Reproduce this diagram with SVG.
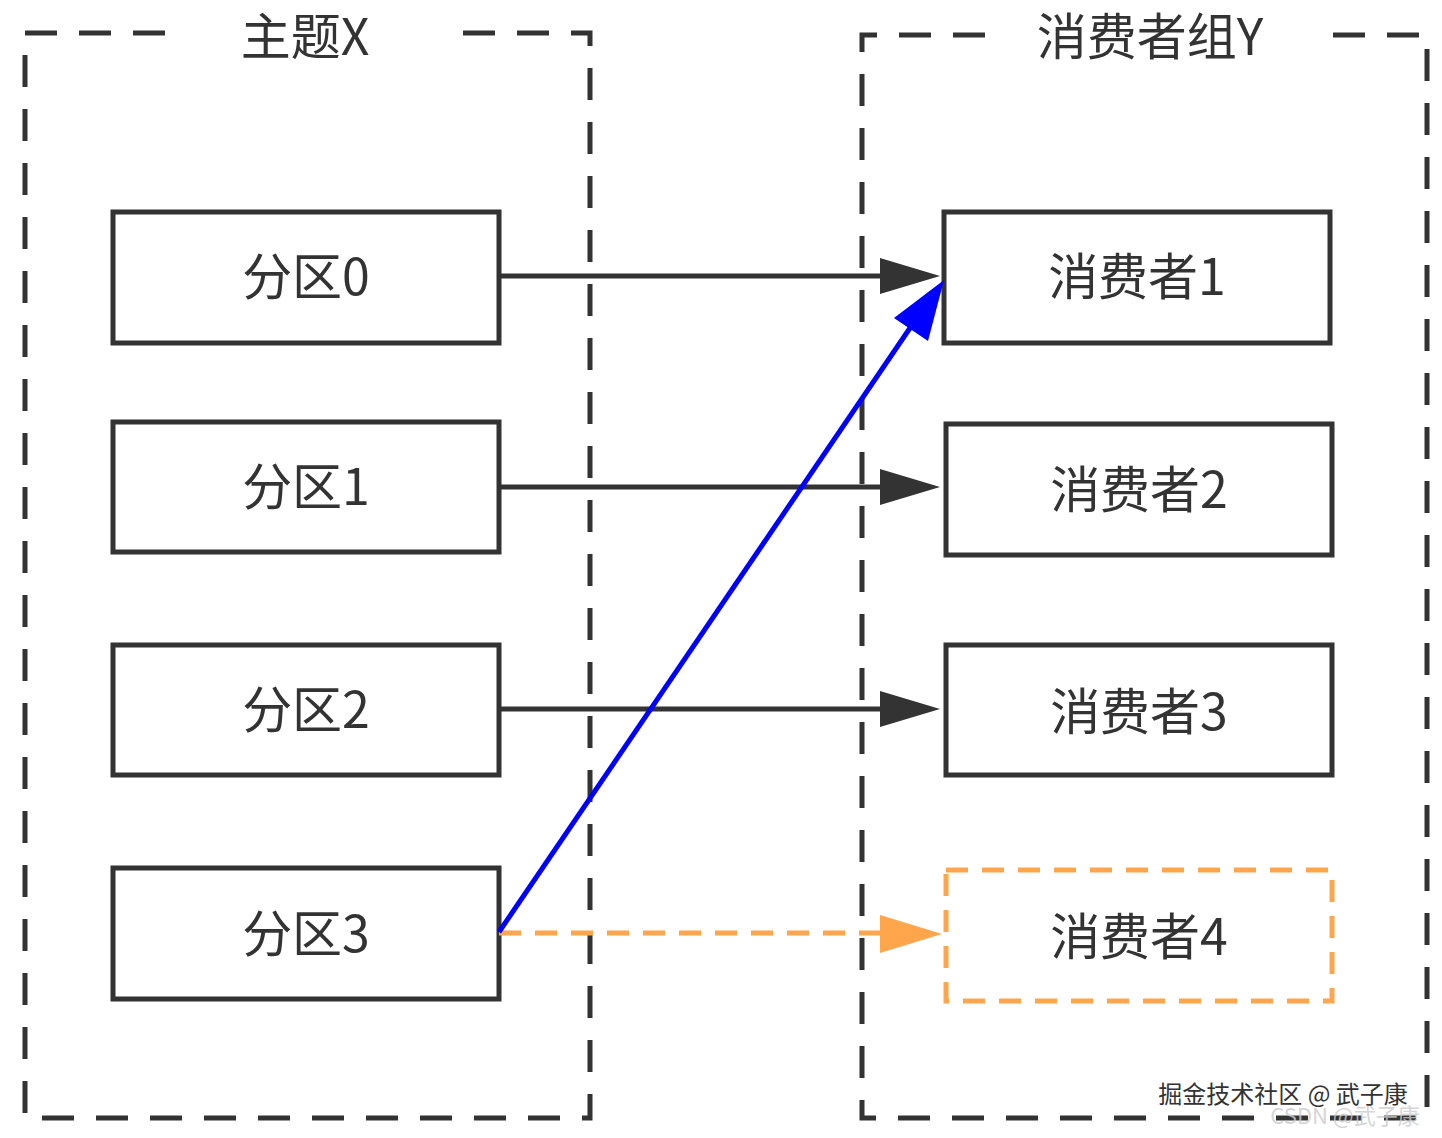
<svg xmlns="http://www.w3.org/2000/svg" width="1442" height="1138" viewBox="0 0 1442 1138">
<style>
.c{fill:none;stroke:#333;stroke-width:5;stroke-dasharray:32 22}
.n rect{fill:#fff;stroke:#333;stroke-width:5}
.t{font-family:"Noto Sans CJK SC","Noto Sans",sans-serif;font-size:50px;fill:#333;text-anchor:middle}
.e{stroke:#333;stroke-width:5;fill:none}
</style>
<rect width="1442" height="1138" fill="#fff"/>
<g id="topicX">
<path class="c" d="M165,33H25V1118H590V33H450"/>
<text class="t" x="305" y="55" font-size="48">主题X</text>
</g>
<g id="groupY">
<path class="c" d="M985,35H862V1118H1427V35H1320"/>
<text class="t" x="1150" y="55" font-size="48">消费者组Y</text>
</g>
<g id="p0" class="n"><rect x="113" y="212" width="386" height="131"/><text class="t" x="306" y="295">分区0</text></g>
<g id="p1" class="n"><rect x="113" y="422" width="386" height="130"/><text class="t" x="306" y="505">分区1</text></g>
<g id="p2" class="n"><rect x="113" y="645" width="386" height="130"/><text class="t" x="306" y="728">分区2</text></g>
<g id="p3" class="n"><rect x="113" y="868" width="386" height="131"/><text class="t" x="306" y="952">分区3</text></g>
<g id="c1" class="n"><rect x="944" y="212" width="386" height="131"/><text class="t" x="1137" y="295">消费者1</text></g>
<g id="c2" class="n"><rect x="946" y="424" width="386" height="131"/><text class="t" x="1139" y="508">消费者2</text></g>
<g id="c3" class="n"><rect x="946" y="645" width="386" height="130"/><text class="t" x="1139" y="730">消费者3</text></g>
<g id="c4"><rect x="946" y="870" width="386" height="131" fill="#fff" stroke="#FFA64D" stroke-width="5" stroke-dasharray="22 14"/><text class="t" x="1139" y="955">消费者4</text></g>
<g id="edges">
<line class="e" x1="499" y1="276" x2="880" y2="276"/><path d="M880,258L940,276L880,294z" fill="#333"/>
<line class="e" x1="499" y1="487" x2="880" y2="487"/><path d="M880,469L940,487L880,505z" fill="#333"/>
<line class="e" x1="499" y1="709" x2="880" y2="709"/><path d="M880,691L940,709L880,727z" fill="#333"/>
<line x1="499" y1="933" x2="880" y2="933" stroke="#FFA64D" stroke-width="5" stroke-dasharray="22 14"/><path d="M880,915L942,934L880,953z" fill="#FFA64D"/>
<line x1="499" y1="932" x2="910" y2="328" stroke="#0000FF" stroke-width="5"/><path d="M894,318L944,280L928,341z" fill="#0000FF"/>
</g>
<text x="1283" y="1103" font-family="'Noto Sans CJK SC',sans-serif" font-size="24" fill="#333" text-anchor="middle">掘金技术社区 @ 武子康</text>
<text x="1345" y="1124" font-family="'Noto Sans CJK SC',sans-serif" font-size="22" fill="#ccc" text-anchor="middle" opacity="0.8">CSDN @武子康</text>
</svg>
